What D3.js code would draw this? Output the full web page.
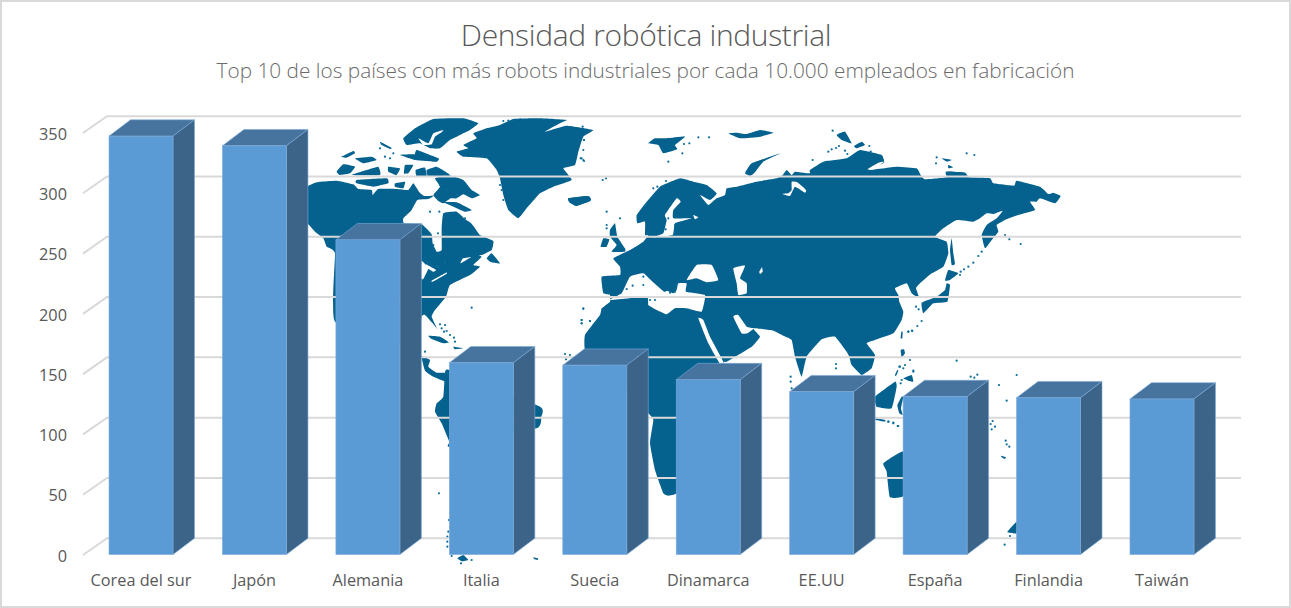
<!DOCTYPE html>
<html><head><meta charset="utf-8">
<script src="https://cdn.jsdelivr.net/npm/d3@7/dist/d3.min.js"></script>
<style>
html,body{margin:0;padding:0;background:#fff}
svg{display:block}
text{font-family:"Open Sans",sans-serif;fill:#595959}
</style></head><body>
<svg id="c" width="1291" height="608"></svg>
<script>
const categories=["Corea del sur","Japón","Alemania","Italia","Suecia","Dinamarca","EE.UU","España","Finlandia","Taiwán"];
const values=[347,339,261,159,157,145,135,131,130,129];
const yTicks=[0,50,100,150,200,250,300,350];
const titleText="Densidad robótica industrial";
const subtitleText="Top 10 de los países con más robots industriales por cada 10.000 empleados en fabricación";

// Background map outline (decoration, not data).
const at=(ox,oy)=>pts=>pts.map(([x,y])=>[ox+x/3,oy+y/3]);
const z5=at(300,115),z6=at(560,120),z7=at(810,120),z8=at(560,300),z9=at(400,340),z10=at(840,340);
const land=[
 // North America
 z5([[10,215],[25,212],[45,203],[60,200],[110,197],[160,208],[175,222],[215,225],[218,240],[235,222],[290,222],[325,225],[340,205],[358,232],[372,243],[402,242],[385,252],[352,255],[335,285],[310,310],[312,325],[365,328],[395,358],[398,385],[410,410],[425,405],[425,340],[430,295],[470,290],[495,312],[510,322],[522,335],[540,360],[580,378],[575,405],[545,420],[490,430],[482,445],[525,420],[545,425],[520,450],[540,455],[510,480],[450,510],[438,545],[405,585],[395,605],[412,642],[398,625],[375,600],[365,605],[340,700],[105,620],[105,415],[80,395],[70,370],[45,350],[22,325],[10,325]]),
 // Arctic Canada
 z5([[405,190],[445,180],[490,195],[515,225],[540,240],[515,250],[490,238],[470,250],[452,250],[430,265],[415,258],[400,240],[420,215]]),
 z5([[430,262],[470,262],[515,285],[495,290],[460,275]]),
 z5([[310,70],[345,40],[400,12],[490,10],[535,25],[510,45],[480,60],[450,75],[420,100],[390,100],[360,85],[320,90]]),
 z5([[350,105],[415,130],[405,140],[345,130]]),
 z5([[110,170],[130,148],[165,155],[150,175],[120,180]]),
 z5([[155,180],[200,165],[235,155],[240,180]]),
 z5([[165,130],[215,125],[230,135],[190,145]]),
 z5([[125,125],[160,108],[165,115],[140,128]]),
 z5([[240,80],[275,98],[270,102],[245,90]]),
 z5([[265,155],[300,160],[290,180],[265,170]]),
 z5([[315,150],[340,150],[325,175],[312,175]]),
 z5([[347,165],[375,158],[380,185],[350,185]]),
 z5([[380,165],[410,155],[450,180],[385,185]]),
 z5([[170,195],[260,190],[265,205],[220,215],[170,205]]),
 z5([[285,205],[315,200],[310,220],[285,215]]),
 z5([[300,120],[340,118],[415,130],[410,140],[345,135]]),
 // Greenland, Iceland
 z5([[520,55],[560,40],[600,30],[640,12],[720,10],[800,15],[780,25],[735,50],[800,32],[880,45],[850,65],[835,110],[825,150],[790,160],[815,195],[760,215],[720,235],[680,280],[655,310],[625,285],[610,240],[600,190],[590,165],[560,130],[490,125],[470,110],[505,100],[490,90],[530,70]]),
 z5([[805,250],[860,243],[872,258],[830,272],[808,262]]),
 // Caribbean and Central America
 z5([[385,662],[420,665],[447,682],[430,685],[395,672]]),
 z5([[460,695],[490,700],[465,703]]),
 z5([[560,430],[575,415],[600,445],[570,440]]),
 z9([[65,50],[90,60],[85,80],[110,98],[130,98],[140,100],[150,120],[150,130],[100,110],[75,92]]),
 // South America
 z9([[135,100],[150,90],[420,200],[424,230],[410,265],[150,320],[148,305],[125,250],[105,215],[110,190],[130,170]]),
 // Eurasia and Africa
 [...z6([[130,520],[125,470],[180,465],[180,440],[160,415],[210,390],[250,365],[265,345],[255,345],[255,305],[232,310],[230,285],[260,245],[300,200],[360,175],[400,185],[440,195],[470,220],[450,240],[420,225],[445,255],[470,235],[495,225],[500,205],[530,200],[590,185],[650,175],[668,165],[680,150],[695,165],[705,155],[730,158],[750,160]]),
  ...z7([[0,150],[40,125],[110,115],[150,90],[215,105],[222,128],[175,150],[260,140],[320,145],[332,165],[345,178],[410,172],[410,155],[465,158],[478,172],[540,175],[550,190],[612,197],[620,182],[690,200],[715,222],[730,218],[752,228],[735,250],[690,235],[680,245],[660,245],[675,270],[625,285],[585,300],[560,315],[565,335],[545,360],[525,385],[515,345],[530,315],[560,295],[578,272],[550,282],[530,280],[510,295],[490,305],[440,300],[400,325],[375,350],[410,365],[415,400],[400,440],[365,460],[330,490],[318,505],[328,535],[305,520],[290,490],[255,505],[265,525],[268,545],[280,575],[275,600],[250,640]]),
  ...z8([[945,120],[920,130],[945,165],[935,205],[905,225],[875,195],[868,170],[860,155],[825,110],[785,118],[740,170],[725,230],[705,170],[695,120],[672,108],[640,92],[580,85],[600,110],[575,140],[500,185],[490,190],[470,330],[400,500],[350,580],[325,587],[310,580],[285,510],[270,430],[280,360],[265,340],[250,320],[120,200],[75,150],[75,105],[120,45],[125,25]]),
  ...z6([[150,545],[150,525]])],
 // Britain, Ireland, Scandinavia islands
 z6([[165,310],[172,350],[195,385],[195,395],[155,395],[170,375],[150,350],[150,330]]),
 z6([[122,380],[130,355],[148,358],[140,380]]),
 z6([[25,235],[85,228],[93,240],[50,258],[30,248]]),
 z6([[265,70],[285,55],[320,55],[375,50],[345,75],[352,88],[310,100],[295,75]]),
 z6([[555,160],[575,130],[662,100],[610,125],[582,160],[570,168]]),
 z6([[505,40],[530,38],[560,42],[600,30],[640,38],[600,50],[540,55]]),
 // Siberian Arctic
 z7([[80,45],[105,35],[125,70],[95,60]]),
 z7([[132,78],[155,65],[165,75],[140,85]]),
 z7([[395,115],[425,120],[410,125]]),
 z7([[415,135],[430,142],[415,145]]),
 z7([[408,155],[412,170],[465,172],[465,158]]),
 // Japan, Sakhalin, Taiwan
 z7([[425,355],[430,400],[435,432],[425,435],[420,390]]),
 z7([[415,450],[445,460],[420,480],[405,482]]),
 z7([[410,490],[420,495],[412,545],[370,550],[340,580],[335,548],[380,530],[405,510]]),
 z7([[274,635],[278,635],[277,655],[272,655]]),
 // Insular south-east Asia
 z10([[105,170],[165,125],[170,140],[155,205],[110,200]]),
 z10([[182,30],[192,28],[195,40],[185,52]]),
 z10([[190,115],[215,105],[220,125],[205,122]]),
 z10([[165,105],[172,90],[175,92],[168,108]]),
 z10([[172,195],[185,170],[190,172],[183,205],[188,225],[178,220]]),
 z10([[105,235],[135,240],[135,245],[108,240]]),
 // Australia, New Zealand
 z10([[130,370],[190,335],[195,465],[150,472],[140,395]]),
 z10([[502,575],[530,545],[530,580],[510,578]]),
 z10([[484,347],[498,352],[494,357],[484,351]]),
 z9([[172,655],[190,645],[205,660],[185,664]]),
 z9([[400,652],[415,656],[412,660],[402,657]])
];
const seas=[
 // Mediterranean
 z6([[150,540],[185,520],[210,470],[250,460],[272,480],[312,515],[322,512],[340,520],[350,510],[355,490],[380,490],[378,515],[435,525],[425,575],[380,565],[345,565],[320,583],[290,570],[265,555],[260,530]]),
 z6([[380,480],[410,435],[455,435],[475,480],[440,487],[410,475]]),
 z6([[520,445],[555,437],[540,475],[560,490],[560,520],[535,525],[530,490]]),
 z6([[598,455],[606,442],[608,455],[600,462]]),
 // Baltic
 z6([[350,235],[362,245],[340,270],[340,295],[395,295],[345,310],[338,345],[280,352],[310,340],[320,300],[315,285]]),
 z6([[400,285],[415,292],[405,298]]),
 // Ob gulf
 z6([[668,222],[690,228],[705,200],[735,218],[738,210],[712,187],[695,185],[695,210],[685,220]]),
 z7([[172,148],[205,128],[222,125],[210,135],[195,148]]),
 // Red Sea, Persian Gulf
 z8([[415,55],[430,60],[450,110],[490,185],[480,192],[445,130]]),
 z8([[520,50],[535,45],[560,80],[582,85],[562,100],[545,100]]),
 // Great Lakes
 z5([[365,438],[385,460],[370,492],[364,490]]),
 z5([[395,497],[438,473],[440,476],[398,500]]),
 z5([[378,448],[408,465],[400,470],[380,458]]),
 // Arctic leads
 z5([[355,70],[385,85],[400,55],[430,45],[425,52],[405,65],[395,88],[370,90]])
];
const italy=[z6([[272,445],[285,450],[312,490],[322,512],[310,500],[285,475]])];
const dots=[[515,578],[850,580],[845,615],[845,625],[870,618],[420,628],[435,630],[425,640],[440,648],[432,650],[450,660],[462,668],[465,680],[414,355],[400,390],[435,442],[415,455],[495,310],[390,290],[418,290],[440,225],[420,210],[470,240],[600,210],[605,225],[610,255],[850,105],[852,75],[845,130],[850,135],[240,100],[255,125],[270,130],[280,115],[610,18],[625,17],[640,15]]
 .map(([x,y])=>[300+x/3,115+y/3])
 .concat([[68,20],[72,60],[62,115],[72,123],[128,180],[138,175],[180,295],[140,275],[140,315],[140,325],[280,205],[292,200],[318,183],[258,254],[325,295],[415,52],[447,52],[372,72],[388,70],[367,100],[325,125],[200,507],[218,497],[250,470],[250,495],[270,540],[285,540],[330,518],[345,515],[70,567],[65,600],[65,610],[90,603],[317,328],[345,315]].map(([x,y])=>[560+x/3,120+y/3]))
 .concat([[68,32],[55,95],[65,88],[78,84],[87,78],[105,92],[112,102],[178,78],[182,95],[8,120],[380,112],[378,130],[470,100],[493,105],[585,345],[598,358],[632,372],[515,395],[505,408],[490,428],[475,440],[462,448],[452,455],[450,465],[318,560],[326,568],[335,603],[322,618],[306,632],[295,635]].map(([x,y])=>[810+x/3,120+y/3]))
 .concat([[1045,95],[1057,93],[828,192],[828,205],[692,230],[692,245],[695,265],[15,162],[30,165],[18,178],[1020,200],[1035,195],[1060,212],[1025,240],[985,365],[1000,368],[1015,378]].map(([x,y])=>[560+x/3,300+y/3]))
 .concat([[178,80],[190,85],[210,60],[65,97],[182,130],[220,95],[392,110],[403,113],[412,104],[350,62],[530,105],[477,135],[500,182],[458,243],[452,252],[465,260],[455,268],[497,302],[500,313],[508,320],[510,588],[494,614],[145,245],[160,250],[173,258]].map(([x,y])=>[840+x/3,340+y/3]))
 .concat([[75,35],[117,460],[145,575],[142,590],[142,605],[142,620],[155,648],[215,660],[183,670],[147,540]].map(([x,y])=>[400+x/3,340+y/3]));

const svg=d3.select("#c");
const frontColor="#5B9BD5",sideColor="#3B6488",topColor="#47749F",edgeColor="#7CA9DA",gridColor="#D9D9D9",mapColor="#05628E";
const depthX=21.5,depthY=16.3;

const y=d3.scaleLinear().domain([0,350]).range([554.5,132.5]);
const x=d3.scaleBand().domain(categories).range([84.3,1218.7]).paddingInner(.436).paddingOuter(.218);

svg.append("rect").attr("x",1).attr("y",1).attr("width",1289).attr("height",606)
  .attr("fill","#fff").attr("stroke",gridColor).attr("stroke-width",2);

// map
const path=d3.line().curve(d3.curveCardinalClosed.tension(.65));
const mapG=svg.append("g").attr("stroke-linejoin","round");
mapG.selectAll("path.land").data(land).join("path").attr("class","land").attr("d",path).attr("fill",mapColor);
mapG.selectAll("path.sea").data(seas).join("path").attr("class","sea").attr("d",path).attr("fill","#fff");
mapG.selectAll("path.it").data(italy).join("path").attr("class","it").attr("d",path).attr("fill",mapColor);
mapG.selectAll("circle").data(dots).join("circle").attr("cx",d=>d[0]).attr("cy",d=>d[1]).attr("r",1.1).attr("fill","#0A6E9C");

// gridlines
const grid=svg.append("g").attr("fill","none").attr("stroke",gridColor).attr("stroke-width",2);
grid.selectAll("path").data(yTicks).join("path")
  .attr("d",d=>`M83,${y(d)+.5}L${83+24},${y(d)-depthY}H1241`);

// bars
const rows=categories.map((c,i)=>({c,v:values[i]}));
const bar=svg.append("g").selectAll("g").data(rows).join("g");
const bw=x.bandwidth();
bar.append("path").attr("fill",topColor).attr("stroke",edgeColor).attr("stroke-width",.6).attr("d",d=>{
  const l=x(d.c),t=y(d.v);
  return `M${l},${t}L${l+depthX},${t-depthY}H${l+bw+depthX}L${l+bw},${t}Z`;});
bar.append("path").attr("fill",sideColor).attr("stroke",edgeColor).attr("stroke-width",.6).attr("d",d=>{
  const r=x(d.c)+bw,t=y(d.v),b=y(0);
  return `M${r},${t}L${r+depthX},${t-depthY}V${b-depthY}L${r},${b}Z`;});
bar.append("rect").attr("fill",frontColor).attr("stroke",edgeColor).attr("stroke-width",.6)
  .attr("x",d=>x(d.c)).attr("y",d=>y(d.v)).attr("width",bw).attr("height",d=>y(0)-y(d.v));

// axes (text only)
const yAxis=svg.append("g").attr("transform","translate(75,1.5)")
  .call(d3.axisLeft(y).tickValues(yTicks).tickSize(0).tickPadding(8));
const xAxis=svg.append("g").attr("transform","translate(0,554.5)")
  .call(d3.axisBottom(x).tickSize(0).tickPadding(19.5));
[yAxis,xAxis].forEach(a=>{a.select(".domain").remove();
  a.selectAll("text").style("font-family",'"Open Sans",sans-serif').style("font-size","16.3px").attr("fill","#595959");});

svg.append("text").attr("x",646).attr("y",46).attr("text-anchor","middle")
  .style("font-size","30px").style("font-weight",300).style("letter-spacing","-.35px").text(titleText);
svg.append("text").attr("x",645.5).attr("y",78).attr("text-anchor","middle")
  .style("font-size","20.8px").style("font-weight",300).style("fill","#6a6a6a").text(subtitleText);
</script></body></html>
